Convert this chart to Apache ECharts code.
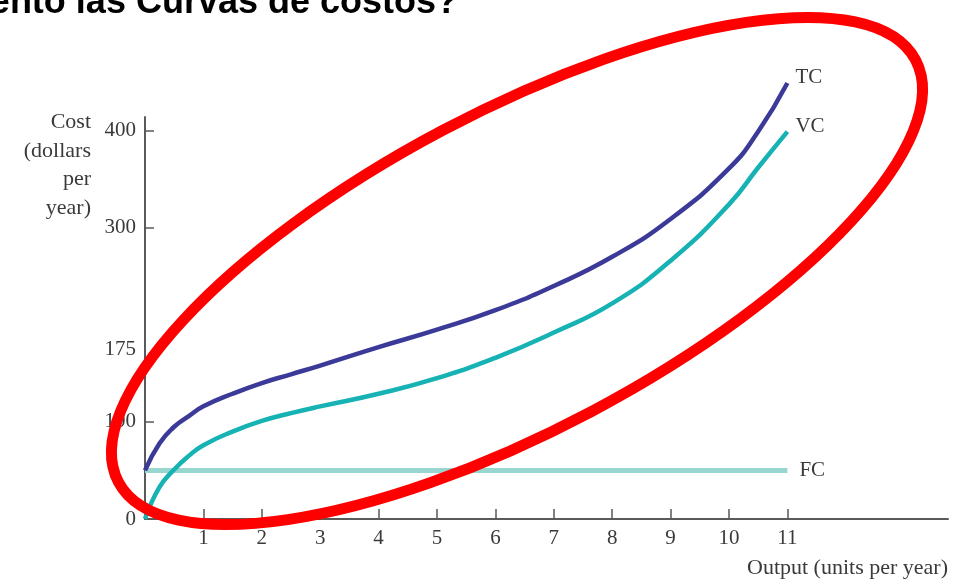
<!DOCTYPE html>
<html>
<head>
<meta charset="utf-8">
<script src="https://cdn.jsdelivr.net/npm/echarts@6/dist/echarts.min.js"></script>
<style>
html,body{margin:0;padding:0;background:#fff;}
#chart{width:961px;height:583px;}
</style>
</head>
<body>
<div id="chart"></div>
<script>
// Output (units per year) at which the curves were read
var output = [0, 0.25, 0.5, 0.75, 1, 1.5, 2, 2.5, 3, 4, 5, 6, 7, 8, 9, 10, 10.5, 11];
// Total cost
var totalCost = [50, 78, 95, 106, 116, 129, 140, 149, 158, 177, 195, 215, 240, 270, 309, 361, 399, 449];
// Variable cost
var variableCost = [0, 33, 51, 65, 76, 90, 101, 109, 116, 129, 145, 166, 192, 222, 266, 324, 362, 399];
// Fixed cost
var fcOutput = [0, 11];
var fixedCost = [50, 50];

var xTicks = [1, 2, 3, 4, 5, 6, 7, 8, 9, 10, 11];
var yLabels = [0, 100, 175, 300, 400];
var yTicks = [100, 300, 400];

var titleText = 'Comportamiento las Curvas de costos?';
var yName = 'Cost\n(dollars\nper\nyear)';
var xName = 'Output (units per year)';

function pairs(xs, ys) { return xs.map(function (x, i) { return [x, ys[i]]; }); }

var serif = '"Liberation Serif", "DejaVu Serif", serif';
var textColor = '#3a3a3a';

var chart = echarts.init(document.getElementById('chart'), null, {renderer: 'canvas'});
chart.setOption({
  animation: false,
  backgroundColor: '#ffffff',
  grid: {left: 145, right: 13, top: 117, bottom: 64, containLabel: false},
  xAxis: {
    type: 'value', min: 0, max: 13.75,
    axisLine: {lineStyle: {color: '#5a5a5a', width: 2}},
    axisTick: {inside: true, length: 10, customValues: xTicks, lineStyle: {color: '#5a5a5a', width: 1.5}},
    axisLabel: {customValues: xTicks, margin: 9, color: textColor, fontFamily: serif, fontSize: 21},
    splitLine: {show: false}
  },
  yAxis: {
    type: 'value', min: 0, max: 414,
    axisLine: {show: true, lineStyle: {color: '#5a5a5a', width: 2}},
    axisTick: {show: true, inside: true, length: 9, customValues: yTicks, lineStyle: {color: '#5a5a5a', width: 1.5}},
    axisLabel: {customValues: yLabels, margin: 9, color: textColor, fontFamily: serif, fontSize: 21},
    splitLine: {show: false}
  },
  series: [
    {
      name: 'FC', type: 'line', data: pairs(fcOutput, fixedCost), showSymbol: false, z: 2, clip: false,
      lineStyle: {color: '#98d6d0', width: 5},
      endLabel: {show: true, formatter: 'FC', distance: 12, color: textColor, fontFamily: serif, fontSize: 21}
    },
    {
      name: 'VC', type: 'line', data: pairs(output, variableCost), showSymbol: false,
      smooth: 0.5, z: 3, clip: false,
      lineStyle: {color: '#17b2b4', width: 4.5},
      endLabel: {show: true, formatter: 'VC', distance: 8, offset: [0, -5], color: textColor, fontFamily: serif, fontSize: 21}
    },
    {
      name: 'TC', type: 'line', data: pairs(output, totalCost), showSymbol: false,
      smooth: 0.5, z: 4, clip: false,
      lineStyle: {color: '#3c3a98', width: 4.5},
      endLabel: {show: true, formatter: 'TC', distance: 8, offset: [0, -6], color: textColor, fontFamily: serif, fontSize: 21}
    }
  ],
  graphic: [
    {
      type: 'text', x: 458, y: 3, z: 10,
      style: {text: titleText, fill: '#000', font: 'bold 36px "Liberation Sans", Arial, sans-serif', align: 'right', verticalAlign: 'middle'}
    },
    {
      type: 'text', x: 91, y: 108, z: 10,
      style: {text: yName, fill: textColor, font: '22px ' + serif, align: 'right', verticalAlign: 'top', lineHeight: 28.5}
    },
    {
      type: 'text', x: 948, y: 557, z: 10,
      style: {text: xName, fill: textColor, font: '22px ' + serif, align: 'right', verticalAlign: 'top'}
    },
    {
      type: 'ellipse', x: 517, y: 271, rotation: 27.9 * Math.PI / 180, z: 100,
      shape: {cx: 0, cy: 0, rx: 451, ry: 159},
      style: {fill: 'none', stroke: '#ff0000', lineWidth: 11}
    }
  ]
});
</script>
</body>
</html>
